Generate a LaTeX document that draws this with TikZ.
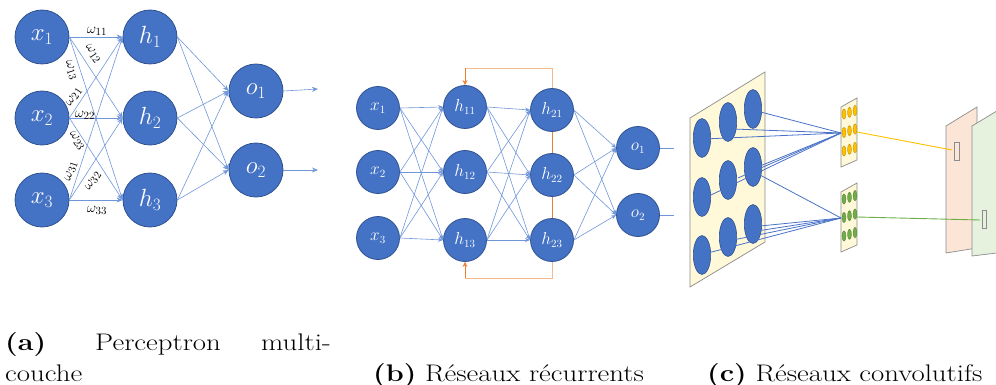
\documentclass[tikz,border=0pt]{standalone}
\usetikzlibrary{arrows.meta}
\definecolor{nblue}{HTML}{4472C4}
\definecolor{nborder}{HTML}{2F528F}
\definecolor{eblue}{HTML}{7096DA}
\definecolor{lblue}{HTML}{4A72C8}
\definecolor{oline}{HTML}{ED7D31}
\definecolor{olight}{HTML}{F6B98C}
\definecolor{ydot}{HTML}{FFC000}
\definecolor{gdot}{HTML}{70AD47}
\definecolor{pyellow}{HTML}{FFF8D9}
\definecolor{ppeach}{HTML}{FBE5D6}
\definecolor{pgreen}{HTML}{E6F2DD}
\definecolor{pgray}{HTML}{8C8C8C}
\newcommand{\capw}[1]{\scalebox{1.2}[1]{#1}}
\tikzset{
  neuA/.style={circle,fill=nblue,draw=nborder,line width=0.8pt,minimum size=54pt,inner sep=0pt,text=white,font=\fontsize{25}{30}\selectfont},
  neuB/.style={circle,fill=nblue,draw=nborder,line width=0.8pt,minimum size=43pt,inner sep=0pt,text=white,font=\fontsize{16}{19}\selectfont},
  conn/.style={eblue,line width=0.6pt,-{Stealth[length=6pt,width=5pt]}},
  plain/.style={eblue,line width=0.6pt},
  wlab/.style={font=\fontsize{15}{17}\selectfont,inner sep=0pt},
  captxt/.style={font=\fontsize{24}{29}\selectfont,inner sep=0pt,anchor=base west},
  blob/.style={fill=nblue,draw=nborder,line width=0.6pt},
  patch/.style={draw=pgray,line width=0.7pt},
}
\begin{document}
\begin{tikzpicture}[x=1pt,y=-1pt]
\useasboundingbox (0,0) rectangle (996,385);
% ---------- panel a ----------
\node[neuA] (x1) at (42,37) {$x_1$};
\node[neuA] (x2) at (42,118) {$x_2$};
\node[neuA] (x3) at (42,200) {$x_3$};
\node[neuA] (h1) at (150,37) {$h_1$};
\node[neuA] (h2) at (150,118) {$h_2$};
\node[neuA] (h3) at (150,200) {$h_3$};
\node[neuA] (o1) at (256,91) {$o_1$};
\node[neuA] (o2) at (256,170) {$o_2$};
\coordinate (oa1) at (318,89);
\coordinate (oa2) at (318,170);
\foreach \i in {1,2,3}{\foreach \j in {1,2,3}{\draw[conn] (x\i.east) -- (h\j.west);}}
\foreach \i in {1,2,3}{\foreach \j in {1,2}{\draw[conn] (h\i.east) -- (o\j.west);}}
\draw[conn] (o1.east) -- (oa1);
\draw[conn] (o2.east) -- (oa2);
\node[wlab] (w11) at (97,31) {$\omega_{11}$};
\node[wlab,rotate=-56] (w12) at (93,54) {$\omega_{12}$};
\node[wlab,rotate=-72] (w13) at (71,70) {$\omega_{13}$};
\node[wlab,rotate=56] (w21) at (74,97) {$\omega_{21}$};
\node[wlab] (w22) at (85,115) {$\omega_{22}$};
\node[wlab,rotate=-56] (w23) at (77,141) {$\omega_{23}$};
\node[wlab,rotate=72] (w31) at (71,171) {$\omega_{31}$};
\node[wlab,rotate=56] (w32) at (93,181) {$\omega_{32}$};
\node[wlab] (w33) at (97,210) {$\omega_{33}$};
% ---------- panel b ----------
\node[neuB] (bx1) at (378,108) {$x_1$};
\node[neuB] (bx2) at (378,172) {$x_2$};
\node[neuB] (bx3) at (378,238) {$x_3$};
\node[neuB] (ha1) at (465,107) {$h_{11}$};
\node[neuB] (ha2) at (465,172) {$h_{12}$};
\node[neuB] (ha3) at (465,240) {$h_{13}$};
\node[neuB] (hb1) at (552,110) {$h_{21}$};
\node[neuB] (hb2) at (552,175) {$h_{22}$};
\node[neuB] (hb3) at (552,240) {$h_{23}$};
\node[neuB] (bo1) at (638,148) {$o_1$};
\node[neuB] (bo2) at (638,215) {$o_2$};
\coordinate (bz1) at (674,148);
\coordinate (bz2) at (674,215);
\foreach \i in {1,2,3}{\foreach \j in {1,2,3}{
  \draw[conn,-{Stealth[length=5pt,width=4pt]}] (bx\i.east) -- (ha\j.west);
  \draw[conn,-{Stealth[length=5pt,width=4pt]}] (ha\i.east) -- (hb\j.west);}}
\foreach \i in {1,2,3}{\foreach \j in {1,2}{\draw[conn,-{Stealth[length=5pt,width=4pt]}] (hb\i.east) -- (bo\j.west);}}
\draw[plain] (bo1.east) -- (bz1);
\draw[plain] (bo2.east) -- (bz2);
\coordinate (lt1) at (552,68);
\coordinate (lt2) at (465,68);
\coordinate (lb1) at (552,278);
\coordinate (lb2) at (465,278);
\draw[olight,line width=0.8pt] (hb1.north) -- (lt1) -- (lt2);
\draw[line width=0.8pt,-{Stealth[length=5pt,width=5pt]},color=oline] (lt2) -- (ha1.north);
\draw[olight,line width=0.8pt] (hb3.south) -- (lb1) -- (lb2);
\draw[line width=0.8pt,-{Stealth[length=5pt,width=5pt]},color=oline] (lb2) -- (ha3.south);
\draw[oline,line width=0.9pt] (hb1.south) -- (hb2.north);
\draw[oline,line width=0.9pt] (hb2.south) -- (hb3.north);
% ---------- panel c ----------
\draw[patch,fill=pyellow] (690,118) -- (765,72) -- (765,242) -- (690,287) -- cycle;
\foreach \cx/\cy in {702/138,702/197,702/255,728/122,728/180,728/237,753/109,753/167,753/224}{
  \draw[blob] (\cx,\cy) ellipse [x radius=8.7, y radius=19.5];}
\draw[patch,fill=pyellow] (841,107) -- (857,98) -- (857,160) -- (841,167) -- cycle;
\draw[patch,fill=pyellow] (841,192) -- (857,183) -- (857,245) -- (841,252) -- cycle;
\foreach \k/\cx in {0/844,1/849.5,2/855}{
  \foreach \r in {0,1,2}{
    \fill[ydot,draw=ydot!70!black,line width=0.3pt] (\cx,{114-1.7*\k+18.5*\r}) ellipse [x radius=2, y radius=5.2];
    \fill[gdot,draw=gdot!70!black,line width=0.3pt] (\cx,{199-1.7*\k+18.5*\r}) ellipse [x radius=2, y radius=5.2];}}
\coordinate (cy) at (841,133);
\coordinate (cg) at (841,218);
\foreach \cx/\cy in {704/139,733/129,753/110,711/195,738/178,760/166}{
  \draw[lblue,line width=0.8pt] (\cx,\cy) -- (cy);}
\foreach \cx/\cy in {760/175,708/253,733/240,760/226,757/231}{
  \draw[lblue,line width=0.8pt] (\cx,\cy) -- (cg);}
% feature maps
\begin{scope}
\clip (0,0) rectangle (996,385);
\draw[patch,fill=ppeach] (946,126) -- (977,107) -- (977,248) -- (946,253) -- cycle;
\draw[pgray,line width=0.6pt] (954,142) rectangle (959,160);
\draw[patch,fill=pgreen] (972,126) -- (1005,106) -- (1005,252) -- (972,256) -- cycle;
\draw[pgray,line width=0.6pt] (982,210) rectangle (986,228);
\end{scope}
\coordinate (fy) at (952,150);
\coordinate (fg) at (980,220);
\draw[ydot,line width=0.9pt] (857,132) -- (fy);
\draw[gdot,line width=0.9pt] (857,217) -- (fg);
% ---------- captions ----------
\node[captxt] (ca1) at (5,350) {\capw{\textbf{(a)}}};
\node[captxt] (ca2) at (95,350) {\capw{Perceptron}};
\node[captxt] (ca3) at (261,350) {\capw{multi-}};
\node[captxt] (ca4) at (5,381) {\capw{couche}};
\node[captxt] (cb) at (373,381) {\capw{\textbf{(b)} Réseaux récurrents}};
\node[captxt] (cc) at (707,381) {\capw{\textbf{(c)} Réseaux convolutifs}};
\end{tikzpicture}
\end{document}
